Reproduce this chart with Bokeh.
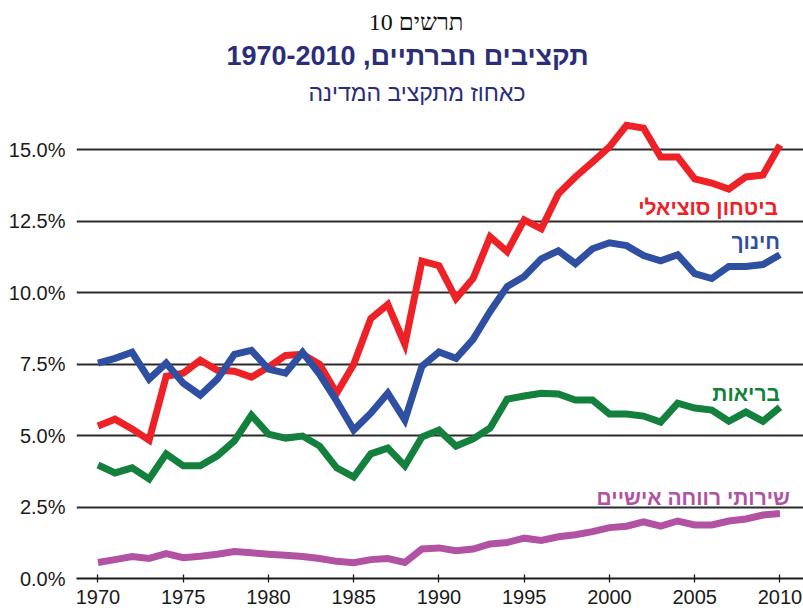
from bokeh.plotting import figure
from bokeh.models import Title, Label, Range1d, FixedTicker, PrintfTickFormatter
from bokeh.embed import file_html
from bokeh.resources import INLINE

years = list(range(1970, 2011))
social = [5.33, 5.57, 5.23, 4.84, 7.07, 7.18, 7.63, 7.28, 7.25, 7.04,
          7.39, 7.80, 7.84, 7.49, 6.48, 7.49, 9.09, 9.58, 8.19, 11.10,
          10.94, 9.79, 10.49, 11.95, 11.43, 12.54, 12.23, 13.45, 14.04, 14.56,
          15.09, 15.85, 15.75, 14.74, 14.74, 13.97, 13.83, 13.62, 14.04, 14.11, 15.16]
education = [7.53, 7.70, 7.91, 6.97, 7.53, 6.83, 6.41, 6.97, 7.84, 7.98,
             7.32, 7.18, 7.91, 7.14, 6.20, 5.19, 5.78, 6.48, 5.54, 7.42,
             7.92, 7.70, 8.36, 9.34, 10.21, 10.56, 11.18, 11.46, 11.01, 11.53,
             11.74, 11.64, 11.29, 11.11, 11.32, 10.66, 10.49, 10.91, 10.91, 10.98, 11.32]
health = [3.97, 3.69, 3.87, 3.48, 4.36, 3.94, 3.94, 4.29, 4.81, 5.71,
          5.05, 4.91, 4.98, 4.63, 3.87, 3.55, 4.36, 4.56, 3.94, 4.95,
          5.19, 4.63, 4.88, 5.26, 6.27, 6.38, 6.48, 6.45, 6.24, 6.24,
          5.75, 5.75, 5.68, 5.47, 6.13, 5.96, 5.89, 5.50, 5.82, 5.50, 5.99]
welfare = [0.56, 0.66, 0.77, 0.70, 0.87, 0.73, 0.78, 0.85, 0.94, 0.90,
           0.85, 0.81, 0.77, 0.70, 0.60, 0.55, 0.66, 0.70, 0.56, 1.03,
           1.07, 0.97, 1.03, 1.21, 1.26, 1.41, 1.33, 1.46, 1.53, 1.64,
           1.78, 1.83, 1.98, 1.83, 2.01, 1.87, 1.87, 2.01, 2.08, 2.22, 2.27]

series_names = ["ביטחון סוציאלי", "חינוך", "בריאות", "שירותי רווחה אישיים"]
series_colors = ["#ee2127", "#2f4fa2", "#13803d", "#b152a3"]
label_y = [12.97, 11.78, 6.48, 2.82]
label_dx = [-2, 0, 0, 10]

x_ticks = [1970, 1975, 1980, 1985, 1990, 1995, 2000, 2005, 2010]
y_ticks = [0, 2.5, 5, 7.5, 10, 12.5, 15]

chart_number = "תרשים 10"
main_title = "תקציבים חברתיים,\u200f 1970-2010"
sub_title = "כאחוז מתקציב המדינה"

p = figure(frame_width=727, frame_height=465, output_backend="svg", toolbar_location=None,
           x_range=Range1d(1968.74, 2011.38), y_range=Range1d(0, 16.26),
           min_border_left=76, min_border_right=0, min_border_top=113,
           min_border_bottom=20)
p.outline_line_color = None
p.background_fill_color = "white"
p.border_fill_color = "white"

p.xgrid.grid_line_color = None
p.ygrid.ticker = FixedTicker(ticks=y_ticks)
p.ygrid.grid_line_color = "#2a2a2a"
p.ygrid.grid_line_width = 1.8

p.yaxis.ticker = FixedTicker(ticks=y_ticks)
p.yaxis.formatter = PrintfTickFormatter(format="%.1f%%")
p.yaxis.axis_line_color = None
p.yaxis.major_tick_line_color = None
p.yaxis.minor_tick_line_color = None
p.yaxis.major_label_text_font = "Liberation Sans"
p.yaxis.major_label_text_font_size = "20px"
p.yaxis.major_label_text_color = "#1a1a1a"
p.yaxis.major_label_standoff = 5

p.xaxis.ticker = FixedTicker(ticks=x_ticks)
p.xaxis.axis_line_color = "#1a1a1a"
p.xaxis.axis_line_width = 1.8
p.xaxis.major_tick_line_color = "#1a1a1a"
p.xaxis.major_tick_line_width = 1.3
p.xaxis.major_tick_in = 4
p.xaxis.major_tick_out = 4
p.xaxis.minor_tick_line_color = None
p.xaxis.major_label_text_font = "Liberation Sans"
p.xaxis.major_label_text_font_size = "20px"
p.xaxis.major_label_text_color = "#1a1a1a"
p.xaxis.major_label_standoff = 7

for vals, col in zip([social, education, health, welfare], series_colors):
    p.line(years, vals, line_color=col, line_width=7, line_join="miter")

for name, col, ly, dx in zip(series_names, series_colors, label_y, label_dx):
    p.add_layout(Label(x=years[-1], y=ly, x_offset=dx, text=name,
                       text_align="right", text_baseline="middle",
                       text_font="Liberation Sans", text_font_style="bold",
                       text_font_size="21px", text_color=col))

p.add_layout(Title(text=sub_title, align="right", offset=278, standoff=15,
                   text_font="Liberation Sans", text_font_style="normal",
                   text_font_size="23px", text_color="#2b2d78"), "above")
p.add_layout(Title(text=main_title, align="right", offset=215, standoff=0,
                   text_font="Liberation Sans", text_font_style="bold",
                   text_font_size="27px", text_color="#2b2d78"), "above")
p.add_layout(Title(text=chart_number, align="right", offset=340, standoff=8,
                   text_font="Liberation Serif", text_font_style="normal",
                   text_font_size="24px", text_color="#111111"), "above")

open("out.html", "w").write(file_html(p, INLINE))
